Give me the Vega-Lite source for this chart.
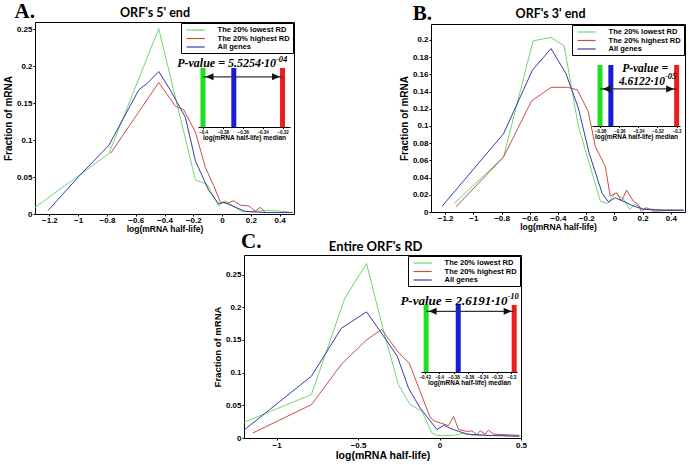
{
  "$schema": "https://vega.github.io/schema/vega-lite/v6.json",
  "background": "white",
  "padding": {"left": 2, "top": 0, "right": 0, "bottom": 0},
  "config": {
    "view": {"stroke": "black", "strokeWidth": 1},
    "font": "Liberation Sans",
    "axis": {"grid": false, "domain": false, "tickColor": "black", "tickSize": 2, "labelFont": "Liberation Sans", "labelFontSize": 8, "labelFontWeight": "bold", "labelColor": "black", "labelPadding": 1, "labelFlush": false, "labelOverlap": false, "titleFont": "Liberation Sans", "titleFontWeight": "bold", "titleColor": "black", "titlePadding": 3},
    "legend": {"orient": "top-right", "offset": 1, "padding": 2.5, "strokeColor": "black", "fillColor": "white", "cornerRadius": 0, "symbolType": "M-2.6,0H2.6", "symbolSize": 49, "symbolStrokeWidth": 1.2, "symbolOffset": 7.6, "labelFont": "Liberation Sans", "labelFontSize": 7.5, "labelFontWeight": "bold", "labelColor": "black", "labelOffset": 17.5, "rowPadding": 0.5}
  },
  "resolve": {"scale": {"color": "independent"}, "legend": {"color": "independent"}},
  "spacing": -3,
  "vconcat": [
    {
      "hconcat": [
        {
          "width": 259, "height": 192,
          "layer": [
            {
              "data": {"values": [
                {"s": "low", "x": -1.3, "y": 0.009}, {"s": "low", "x": -0.787, "y": 0.0815}, {"s": "low", "x": -0.44, "y": 0.251}, {"s": "low", "x": -0.185, "y": 0.046}, {"s": "low", "x": -0.104, "y": 0.04}, {"s": "low", "x": -0.023, "y": 0.011}, {"s": "low", "x": 0.019, "y": 0.018}, {"s": "low", "x": 0.07, "y": 0.012}, {"s": "low", "x": 0.139, "y": 0.003}, {"s": "low", "x": 0.2, "y": 0.003}, {"s": "low", "x": 0.3, "y": 0.005}, {"s": "low", "x": 0.4, "y": 0.004}, {"s": "low", "x": 0.49, "y": 0.002},
                {"s": "high", "x": -0.775, "y": 0.082}, {"s": "high", "x": -0.44, "y": 0.178}, {"s": "high", "x": -0.324, "y": 0.146}, {"s": "high", "x": -0.266, "y": 0.141}, {"s": "high", "x": -0.185, "y": 0.111}, {"s": "high", "x": -0.116, "y": 0.063}, {"s": "high", "x": -0.058, "y": 0.0385}, {"s": "high", "x": -0.012, "y": 0.016}, {"s": "high", "x": 0.035, "y": 0.0145}, {"s": "high", "x": 0.08, "y": 0.018}, {"s": "high", "x": 0.127, "y": 0.012}, {"s": "high", "x": 0.185, "y": 0.011}, {"s": "high", "x": 0.23, "y": 0.004}, {"s": "high", "x": 0.266, "y": 0.009}, {"s": "high", "x": 0.3, "y": 0.002}, {"s": "high", "x": 0.49, "y": 0.002},
                {"s": "all", "x": -1.21, "y": 0.0045}, {"s": "all", "x": -1.0, "y": 0.05}, {"s": "all", "x": -0.787, "y": 0.093}, {"s": "all", "x": -0.579, "y": 0.168}, {"s": "all", "x": -0.52, "y": 0.177}, {"s": "all", "x": -0.44, "y": 0.193}, {"s": "all", "x": -0.36, "y": 0.168}, {"s": "all", "x": -0.255, "y": 0.131}, {"s": "all", "x": -0.185, "y": 0.072}, {"s": "all", "x": -0.093, "y": 0.032}, {"s": "all", "x": -0.023, "y": 0.0136}, {"s": "all", "x": 0.012, "y": 0.016}, {"s": "all", "x": 0.07, "y": 0.011}, {"s": "all", "x": 0.16, "y": 0.0036}, {"s": "all", "x": 0.3, "y": 0.002}, {"s": "all", "x": 0.49, "y": 0.002}
              ]},
              "mark": {"type": "line", "strokeWidth": 1, "clip": true},
              "encoding": {
                "x": {"field": "x", "type": "quantitative", "scale": {"domain": [-1.3, 0.5], "nice": false, "zero": false}, "axis": {"values": [-1.2, -1, -0.8, -0.6, -0.4, -0.2, 0, 0.2, 0.4], "format": "~g", "labelOverlap": false, "labelPadding": 0, "title": "log(mRNA half-life)", "titleFontSize": 8.5, "titlePadding": 0}},
                "y": {"field": "y", "type": "quantitative", "scale": {"domain": [0, 0.26], "nice": false}, "axis": {"values": [0, 0.05, 0.1, 0.15, 0.2, 0.25], "format": "~g", "labelOverlap": false, "title": "Fraction of mRNA", "titleFontSize": 10}},
                "color": {"field": "s", "type": "nominal", "scale": {"domain": ["low", "high", "all"], "range": ["#6ed86e", "#cc4c4c", "#3a3aa8"]}, "legend": {"title": null, "labelExpr": "datum.label == 'low' ? 'The 20% lowest RD' : datum.label == 'high' ? 'The 20% highest RD' : 'All genes'"}}
              }
            },
            {
              "layer": [
                {
                  "data": {"values": [{"t": "A."}]},
                  "mark": {"type": "text", "font": "Liberation Serif", "fontSize": 21, "fontWeight": "bold", "align": "right", "baseline": "alphabetic", "dy": -4},
                  "encoding": {"x": {"datum": -1.3, "type": "quantitative", "scale": {"domain": [-1.3, 0.5], "nice": false, "zero": false}, "axis": null}, "y": {"datum": 0.26, "type": "quantitative", "scale": {"domain": [0, 0.26], "nice": false}, "axis": null}, "text": {"field": "t"}}
                },
                {
                  "data": {"values": [{"t": "ORF's 5' end"}]},
                  "mark": {"type": "text", "font": "Lato", "fontSize": 12.5, "fontWeight": "bold", "align": "center", "baseline": "alphabetic", "dy": -5},
                  "encoding": {"x": {"datum": -0.466, "type": "quantitative", "axis": null}, "y": {"datum": 0.26, "type": "quantitative", "axis": null}, "text": {"field": "t"}}
                }
              ]
            },
            {
              "data": {"values": [{"g": "low", "m": -0.4}, {"g": "all", "m": -0.369}, {"g": "high", "m": -0.32}]},
              "mark": {"type": "rule", "strokeWidth": 5, "strokeCap": "butt"},
              "encoding": {
                "x": {"field": "m", "type": "quantitative", "scale": {"domain": [-0.405, -0.3125], "range": [163, 255], "nice": false, "zero": false}, "axis": {"orient": "bottom", "offset": -87, "values": [-0.4, -0.38, -0.36, -0.34, -0.32], "format": "~g", "labelOverlap": false, "title": "log(mRNA half-life) median", "domain": true, "domainColor": "black", "tickSize": 1.5, "labelFontSize": 4.5, "labelPadding": 0.5, "titleFontSize": 6.5, "titlePadding": 1}},
                "y": {"datum": 1, "type": "quantitative", "scale": {"domain": [0, 1], "range": [105, 46], "nice": false, "zero": false}, "axis": null},
                "y2": {"datum": 0},
                "stroke": {"field": "g", "type": "nominal", "scale": {"domain": ["low", "high", "all"], "range": ["#1ee01e", "#ee1c1c", "#1a1ad8"]}, "legend": null}
              }
            },
            {
              "data": {"values": [{"g": "low", "m": -0.4}, {"g": "all", "m": -0.369}, {"g": "high", "m": -0.32}]},
              "layer": [
                {
                  "transform": [{"filter": "datum.g != 'all'"}],
                  "mark": {"type": "rule", "strokeWidth": 1.3, "color": "#333333"},
                  "encoding": {"x": {"aggregate": "min", "field": "m", "type": "quantitative", "scale": {"domain": [-0.405, -0.3125], "range": [163, 255], "nice": false, "zero": false}, "axis": null}, "x2": {"aggregate": "max", "field": "m"}, "y": {"datum": 0.85, "type": "quantitative", "scale": {"domain": [0, 1], "range": [105, 46], "nice": false, "zero": false}, "axis": null}}
                },
                {
                  "transform": [{"filter": "datum.g != 'all'"}],
                  "mark": {"type": "point", "filled": true, "color": "#111111", "size": 16, "opacity": 1},
                  "encoding": {"x": {"field": "m", "type": "quantitative", "axis": null}, "y": {"datum": 0.85, "type": "quantitative", "axis": null}, "shape": {"field": "g", "type": "nominal", "scale": {"domain": ["low", "high"], "range": ["M1.25,0L5.25,-1.75L5.25,1.75Z", "M-1.25,0L-5.25,-1.75L-5.25,1.75Z"]}, "legend": null}}
                },
                {
                  "data": {"values": [{"t": "P-value = 5.5254·10"}]},
                  "mark": {"type": "text", "font": "Liberation Serif", "fontStyle": "italic", "fontWeight": "bold", "fontSize": 12, "align": "right", "baseline": "alphabetic"},
                  "encoding": {"x": {"datum": -0.3266, "type": "quantitative", "axis": null}, "y": {"datum": 1.017, "type": "quantitative", "axis": null}, "text": {"field": "t"}}
                },
                {
                  "data": {"values": [{"t": "-04"}]},
                  "mark": {"type": "text", "font": "Liberation Serif", "fontStyle": "italic", "fontWeight": "bold", "fontSize": 8.5, "align": "left", "baseline": "alphabetic"},
                  "encoding": {"x": {"datum": -0.3266, "type": "quantitative", "axis": null}, "y": {"datum": 1.1, "type": "quantitative", "axis": null}, "text": {"field": "t"}}
                }
              ]
            }
          ],
          "resolve": {"scale": {"x": "independent", "y": "independent"}}
        },
        {
          "width": 254, "height": 188,
          "layer": [
            {
              "data": {"values": [
                {"s": "low", "x": -1.135, "y": 0.01}, {"s": "low", "x": -0.786, "y": 0.064}, {"s": "low", "x": -0.577, "y": 0.199}, {"s": "low", "x": -0.449, "y": 0.203}, {"s": "low", "x": -0.356, "y": 0.193}, {"s": "low", "x": -0.256, "y": 0.1}, {"s": "low", "x": -0.1, "y": 0.0127}, {"s": "low", "x": -0.047, "y": 0.0097}, {"s": "low", "x": 0.005, "y": 0.022}, {"s": "low", "x": 0.063, "y": 0.015}, {"s": "low", "x": 0.11, "y": 0.003}, {"s": "low", "x": 0.144, "y": 0.009}, {"s": "low", "x": 0.2, "y": 0.004}, {"s": "low", "x": 0.3, "y": 0.003}, {"s": "low", "x": 0.49, "y": 0.002},
                {"s": "high", "x": -1.123, "y": 0.006}, {"s": "high", "x": -0.786, "y": 0.064}, {"s": "high", "x": -0.588, "y": 0.129}, {"s": "high", "x": -0.449, "y": 0.145}, {"s": "high", "x": -0.333, "y": 0.145}, {"s": "high", "x": -0.263, "y": 0.142}, {"s": "high", "x": -0.186, "y": 0.117}, {"s": "high", "x": -0.135, "y": 0.076}, {"s": "high", "x": -0.065, "y": 0.053}, {"s": "high", "x": -0.03, "y": 0.0185}, {"s": "high", "x": 0.016, "y": 0.0224}, {"s": "high", "x": 0.05, "y": 0.0127}, {"s": "high", "x": 0.086, "y": 0.0255}, {"s": "high", "x": 0.133, "y": 0.0127}, {"s": "high", "x": 0.167, "y": 0.009}, {"s": "high", "x": 0.19, "y": 0.001}, {"s": "high", "x": 0.225, "y": 0.005}, {"s": "high", "x": 0.28, "y": 0.001}, {"s": "high", "x": 0.4, "y": 0.002}, {"s": "high", "x": 0.49, "y": 0.002},
                {"s": "all", "x": -1.22, "y": 0.007}, {"s": "all", "x": -0.786, "y": 0.091}, {"s": "all", "x": -0.581, "y": 0.165}, {"s": "all", "x": -0.449, "y": 0.19}, {"s": "all", "x": -0.344, "y": 0.161}, {"s": "all", "x": -0.256, "y": 0.121}, {"s": "all", "x": -0.18, "y": 0.069}, {"s": "all", "x": -0.088, "y": 0.022}, {"s": "all", "x": -0.042, "y": 0.0116}, {"s": "all", "x": 0.005, "y": 0.0166}, {"s": "all", "x": 0.074, "y": 0.0116}, {"s": "all", "x": 0.133, "y": 0.007}, {"s": "all", "x": 0.21, "y": 0.003}, {"s": "all", "x": 0.35, "y": 0.002}, {"s": "all", "x": 0.49, "y": 0.002}
              ]},
              "mark": {"type": "line", "strokeWidth": 1, "clip": true},
              "encoding": {
                "x": {"field": "x", "type": "quantitative", "scale": {"domain": [-1.3, 0.5], "nice": false, "zero": false}, "axis": {"values": [-1.2, -1, -0.8, -0.6, -0.4, -0.2, 0, 0.2, 0.4], "format": "~g", "labelOverlap": false, "labelPadding": 0, "title": "log(mRNA half-life)", "titleFontSize": 8.5, "titlePadding": 0}},
                "y": {"field": "y", "type": "quantitative", "scale": {"domain": [0, 0.2186], "nice": false}, "axis": {"values": [0, 0.02, 0.04, 0.06, 0.08, 0.1, 0.12, 0.14, 0.16, 0.18, 0.2], "format": "~g", "labelOverlap": false, "title": "Fraction of mRNA", "titleFontSize": 10}},
                "color": {"field": "s", "type": "nominal", "scale": {"domain": ["low", "high", "all"], "range": ["#6ed86e", "#cc4c4c", "#3a3aa8"]}, "legend": {"title": null, "labelExpr": "datum.label == 'low' ? 'The 20% lowest RD' : datum.label == 'high' ? 'The 20% highest RD' : 'All genes'"}}
              }
            },
            {
              "layer": [
                {
                  "data": {"values": [{"t": "B."}]},
                  "mark": {"type": "text", "font": "Liberation Serif", "fontSize": 21, "fontWeight": "bold", "align": "right", "baseline": "alphabetic", "dx": 1, "dy": -4},
                  "encoding": {"x": {"datum": -1.3, "type": "quantitative", "scale": {"domain": [-1.3, 0.5], "nice": false, "zero": false}, "axis": null}, "y": {"datum": 0.2186, "type": "quantitative", "scale": {"domain": [0, 0.2186], "nice": false}, "axis": null}, "text": {"field": "t"}}
                },
                {
                  "data": {"values": [{"t": "ORF's 3' end"}]},
                  "mark": {"type": "text", "font": "Lato", "fontSize": 12.5, "fontWeight": "bold", "align": "center", "baseline": "alphabetic", "dy": -6},
                  "encoding": {"x": {"datum": -0.453, "type": "quantitative", "axis": null}, "y": {"datum": 0.2186, "type": "quantitative", "axis": null}, "text": {"field": "t"}}
                }
              ]
            },
            {
              "data": {"values": [{"g": "low", "m": -0.38}, {"g": "all", "m": -0.3687}, {"g": "high", "m": -0.3}]},
              "mark": {"type": "rule", "strokeWidth": 5, "strokeCap": "butt"},
              "encoding": {
                "x": {"field": "m", "type": "quantitative", "scale": {"domain": [-0.3884, -0.2965], "range": [161, 249], "nice": false, "zero": false}, "axis": {"orient": "bottom", "offset": -86, "values": [-0.38, -0.36, -0.34, -0.32, -0.3], "format": "~g", "labelOverlap": false, "title": "log(mRNA half-life) median", "domain": true, "domainColor": "black", "tickSize": 1.5, "labelFontSize": 4.5, "labelPadding": 0.5, "titleFontSize": 6.5, "titlePadding": 1}},
                "y": {"datum": 1, "type": "quantitative", "scale": {"domain": [0, 1], "range": [102, 41], "nice": false, "zero": false}, "axis": null},
                "y2": {"datum": 0},
                "stroke": {"field": "g", "type": "nominal", "scale": {"domain": ["low", "high", "all"], "range": ["#1ee01e", "#ee1c1c", "#1a1ad8"]}, "legend": null}
              }
            },
            {
              "data": {"values": [{"g": "low", "m": -0.38}, {"g": "all", "m": -0.3687}, {"g": "high", "m": -0.3}]},
              "layer": [
                {
                  "transform": [{"filter": "datum.g != 'all'"}],
                  "mark": {"type": "rule", "strokeWidth": 1.3, "color": "#333333"},
                  "encoding": {"x": {"aggregate": "min", "field": "m", "type": "quantitative", "scale": {"domain": [-0.3884, -0.2965], "range": [161, 249], "nice": false, "zero": false}, "axis": null}, "x2": {"aggregate": "max", "field": "m"}, "y": {"datum": 0.607, "type": "quantitative", "scale": {"domain": [0, 1], "range": [102, 41], "nice": false, "zero": false}, "axis": null}}
                },
                {
                  "transform": [{"filter": "datum.g != 'all'"}],
                  "mark": {"type": "point", "filled": true, "color": "#111111", "size": 16, "opacity": 1},
                  "encoding": {"x": {"field": "m", "type": "quantitative", "axis": null}, "y": {"datum": 0.607, "type": "quantitative", "axis": null}, "shape": {"field": "g", "type": "nominal", "scale": {"domain": ["low", "high"], "range": ["M1.25,0L5.25,-1.75L5.25,1.75Z", "M-1.25,0L-5.25,-1.75L-5.25,1.75Z"]}, "legend": null}}
                },
                {
                  "data": {"values": [{"t": "P-value ="}]},
                  "mark": {"type": "text", "font": "Liberation Serif", "fontStyle": "italic", "fontWeight": "bold", "fontSize": 11.5, "align": "center", "baseline": "alphabetic"},
                  "encoding": {"x": {"datum": -0.333, "type": "quantitative", "axis": null}, "y": {"datum": 0.885, "type": "quantitative", "axis": null}, "text": {"field": "t"}}
                },
                {
                  "data": {"values": [{"t": "4.6122·10"}]},
                  "mark": {"type": "text", "font": "Liberation Serif", "fontStyle": "italic", "fontWeight": "bold", "fontSize": 11.5, "align": "right", "baseline": "alphabetic"},
                  "encoding": {"x": {"datum": -0.3122, "type": "quantitative", "axis": null}, "y": {"datum": 0.672, "type": "quantitative", "axis": null}, "text": {"field": "t"}}
                },
                {
                  "data": {"values": [{"t": "-05"}]},
                  "mark": {"type": "text", "font": "Liberation Serif", "fontStyle": "italic", "fontWeight": "bold", "fontSize": 8.5, "align": "left", "baseline": "alphabetic"},
                  "encoding": {"x": {"datum": -0.3122, "type": "quantitative", "axis": null}, "y": {"datum": 0.77, "type": "quantitative", "axis": null}, "text": {"field": "t"}}
                }
              ]
            }
          ],
          "resolve": {"scale": {"x": "independent", "y": "independent"}}
        }
      ],
      "spacing": 137,
      "bounds": "flush",
      "center": true,
      "resolve": {"scale": {"color": "independent"}, "legend": {"color": "independent"}}
    },
    {
      "hconcat": [
        {
          "width": 209, "height": 1,
          "view": {"stroke": null, "fill": "white"},
          "data": {"values": [{"t": ""}]},
          "mark": {"type": "text"},
          "encoding": {"text": {"field": "t"}}
        },
        {
          "width": 277, "height": 183,
          "layer": [
            {
              "data": {"values": [
                {"s": "low", "x": -1.2, "y": 0.024}, {"s": "low", "x": -0.786, "y": 0.0666}, {"s": "low", "x": -0.581, "y": 0.214}, {"s": "low", "x": -0.448, "y": 0.267}, {"s": "low", "x": -0.35, "y": 0.17}, {"s": "low", "x": -0.253, "y": 0.082}, {"s": "low", "x": -0.18, "y": 0.051}, {"s": "low", "x": -0.109, "y": 0.041}, {"s": "low", "x": -0.047, "y": 0.0077}, {"s": "low", "x": -0.016, "y": 0.004}, {"s": "low", "x": 0.086, "y": 0.004}, {"s": "low", "x": 0.138, "y": 0.007}, {"s": "low", "x": 0.21, "y": 0.004}, {"s": "low", "x": 0.49, "y": 0.0036},
                {"s": "high", "x": -1.146, "y": 0.0077}, {"s": "high", "x": -0.786, "y": 0.051}, {"s": "high", "x": -0.602, "y": 0.113}, {"s": "high", "x": -0.448, "y": 0.15}, {"s": "high", "x": -0.355, "y": 0.166}, {"s": "high", "x": -0.253, "y": 0.131}, {"s": "high", "x": -0.185, "y": 0.114}, {"s": "high", "x": -0.057, "y": 0.031}, {"s": "high", "x": -0.027, "y": 0.0256}, {"s": "high", "x": 0.055, "y": 0.019}, {"s": "high", "x": 0.086, "y": 0.033}, {"s": "high", "x": 0.117, "y": 0.013}, {"s": "high", "x": 0.168, "y": 0.01}, {"s": "high", "x": 0.2, "y": 0.011}, {"s": "high", "x": 0.23, "y": 0.005}, {"s": "high", "x": 0.25, "y": 0.011}, {"s": "high", "x": 0.28, "y": 0.006}, {"s": "high", "x": 0.3, "y": 0.012}, {"s": "high", "x": 0.33, "y": 0.006}, {"s": "high", "x": 0.49, "y": 0.004},
                {"s": "all", "x": -1.2, "y": 0.012}, {"s": "all", "x": -0.786, "y": 0.0947}, {"s": "all", "x": -0.602, "y": 0.168}, {"s": "all", "x": -0.448, "y": 0.193}, {"s": "all", "x": -0.366, "y": 0.164}, {"s": "all", "x": -0.259, "y": 0.125}, {"s": "all", "x": -0.19, "y": 0.076}, {"s": "all", "x": -0.119, "y": 0.046}, {"s": "all", "x": -0.016, "y": 0.0128}, {"s": "all", "x": 0.025, "y": 0.0195}, {"s": "all", "x": 0.086, "y": 0.0128}, {"s": "all", "x": 0.168, "y": 0.006}, {"s": "all", "x": 0.3, "y": 0.004}, {"s": "all", "x": 0.49, "y": 0.0026}
              ]},
              "mark": {"type": "line", "strokeWidth": 1, "clip": true},
              "encoding": {
                "x": {"field": "x", "type": "quantitative", "scale": {"domain": [-1.2, 0.5], "nice": false, "zero": false}, "axis": {"values": [-1, -0.5, 0, 0.5], "format": "~g", "labelOverlap": false, "title": "log(mRNA half-life)", "titleFontSize": 10.5, "titlePadding": 1}},
                "y": {"field": "y", "type": "quantitative", "scale": {"domain": [0, 0.28], "nice": false}, "axis": {"values": [0, 0.05, 0.1, 0.15, 0.2, 0.25], "format": "~g", "labelOverlap": false, "title": "Fraction of mRNA", "titleFontSize": 9.5}},
                "color": {"field": "s", "type": "nominal", "scale": {"domain": ["low", "high", "all"], "range": ["#6ed86e", "#cc4c4c", "#3a3aa8"]}, "legend": {"title": null, "labelExpr": "datum.label == 'low' ? 'The 20% lowest RD' : datum.label == 'high' ? 'The 20% highest RD' : 'All genes'"}}
              }
            },
            {
              "layer": [
                {
                  "data": {"values": [{"t": "C."}]},
                  "mark": {"type": "text", "font": "Liberation Serif", "fontSize": 21, "fontWeight": "bold", "align": "left", "baseline": "alphabetic", "dx": -3, "dy": -7},
                  "encoding": {"x": {"datum": -1.2, "type": "quantitative", "scale": {"domain": [-1.2, 0.5], "nice": false, "zero": false}, "axis": null}, "y": {"datum": 0.28, "type": "quantitative", "scale": {"domain": [0, 0.28], "nice": false}, "axis": null}, "text": {"field": "t"}}
                },
                {
                  "data": {"values": [{"t": "Entire ORF's RD"}]},
                  "mark": {"type": "text", "font": "Lato", "fontSize": 13, "fontWeight": "bold", "align": "center", "baseline": "alphabetic", "dy": -4},
                  "encoding": {"x": {"datum": -0.392, "type": "quantitative", "axis": null}, "y": {"datum": 0.28, "type": "quantitative", "axis": null}, "text": {"field": "t"}}
                }
              ]
            },
            {
              "data": {"values": [{"g": "low", "m": -0.418}, {"g": "all", "m": -0.3735}, {"g": "high", "m": -0.296}]},
              "mark": {"type": "rule", "strokeWidth": 5, "strokeCap": "butt"},
              "encoding": {
                "x": {"field": "m", "type": "quantitative", "scale": {"domain": [-0.4251, -0.2921], "range": [177, 273], "nice": false, "zero": false}, "axis": {"orient": "bottom", "offset": -66, "values": [-0.42, -0.4, -0.38, -0.36, -0.34, -0.32, -0.3], "format": "~g", "labelOverlap": false, "title": "log(mRNA half-life) median", "domain": true, "domainColor": "black", "tickSize": 1.5, "labelFontSize": 4.5, "labelPadding": 0.5, "titleFontSize": 6.5, "titlePadding": 1}},
                "y": {"datum": 1, "type": "quantitative", "scale": {"domain": [0, 1], "range": [117, 50], "nice": false, "zero": false}, "axis": null},
                "y2": {"datum": 0},
                "stroke": {"field": "g", "type": "nominal", "scale": {"domain": ["low", "high", "all"], "range": ["#1ee01e", "#ee1c1c", "#1a1ad8"]}, "legend": null}
              }
            },
            {
              "data": {"values": [{"g": "low", "m": -0.418}, {"g": "all", "m": -0.3735}, {"g": "high", "m": -0.296}]},
              "layer": [
                {
                  "transform": [{"filter": "datum.g != 'all'"}],
                  "mark": {"type": "rule", "strokeWidth": 1.3, "color": "#333333"},
                  "encoding": {"x": {"aggregate": "min", "field": "m", "type": "quantitative", "scale": {"domain": [-0.4251, -0.2921], "range": [177, 273], "nice": false, "zero": false}, "axis": null}, "x2": {"aggregate": "max", "field": "m"}, "y": {"datum": 0.906, "type": "quantitative", "scale": {"domain": [0, 1], "range": [117, 50], "nice": false, "zero": false}, "axis": null}}
                },
                {
                  "transform": [{"filter": "datum.g != 'all'"}],
                  "mark": {"type": "point", "filled": true, "color": "#111111", "size": 16, "opacity": 1},
                  "encoding": {"x": {"field": "m", "type": "quantitative", "axis": null}, "y": {"datum": 0.906, "type": "quantitative", "axis": null}, "shape": {"field": "g", "type": "nominal", "scale": {"domain": ["low", "high"], "range": ["M1.25,0L5.25,-1.75L5.25,1.75Z", "M-1.25,0L-5.25,-1.75L-5.25,1.75Z"]}, "legend": null}}
                },
                {
                  "data": {"values": [{"t": "P-value = 2.6191·10"}]},
                  "mark": {"type": "text", "font": "Liberation Serif", "fontStyle": "italic", "fontWeight": "bold", "fontSize": 13, "align": "right", "baseline": "alphabetic"},
                  "encoding": {"x": {"datum": -0.3053, "type": "quantitative", "axis": null}, "y": {"datum": 1.0, "type": "quantitative", "axis": null}, "text": {"field": "t"}}
                },
                {
                  "data": {"values": [{"t": "-10"}]},
                  "mark": {"type": "text", "font": "Liberation Serif", "fontStyle": "italic", "fontWeight": "bold", "fontSize": 8.5, "align": "left", "baseline": "alphabetic"},
                  "encoding": {"x": {"datum": -0.3053, "type": "quantitative", "axis": null}, "y": {"datum": 1.09, "type": "quantitative", "axis": null}, "text": {"field": "t"}}
                }
              ]
            }
          ],
          "resolve": {"scale": {"x": "independent", "y": "independent"}}
        }
      ],
      "spacing": 0,
      "bounds": "flush",
      "resolve": {"scale": {"color": "independent"}, "legend": {"color": "independent"}}
    }
  ]
}
